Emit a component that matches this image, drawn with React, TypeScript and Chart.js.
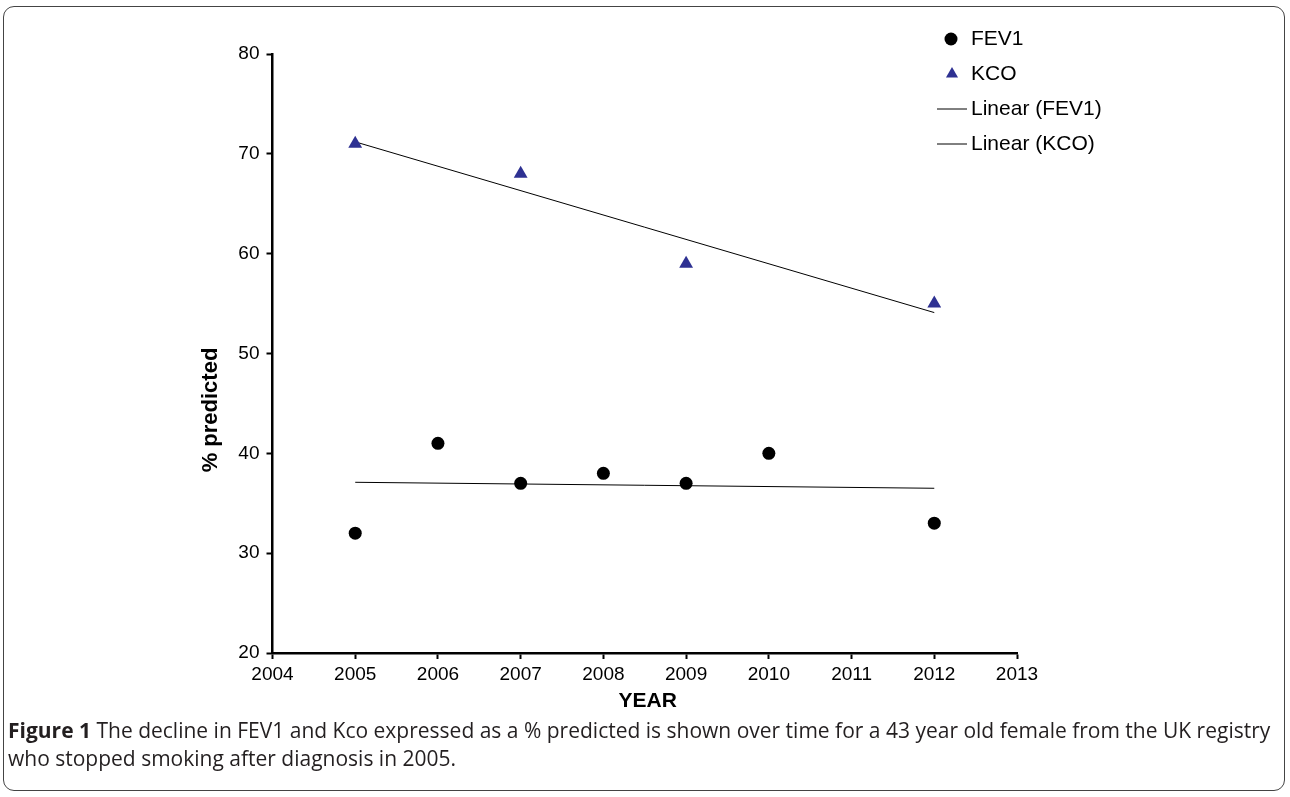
import React, { useEffect, useRef } from "react";
import { Chart, registerables } from "chart.js";

Chart.register(...registerables);

const fev1Years = [2005, 2006, 2007, 2008, 2009, 2010, 2012];
const fev1Values = [32, 41, 37, 38, 37, 40, 33];
const kcoYears = [2005, 2007, 2009, 2012];
const kcoValues = [71, 68, 59, 55];
const trendYears = [2005, 2012];
const fev1TrendValues = [37.1, 36.5];
const kcoTrendValues = [71.2, 54.1];
const xTickValues = [2004, 2005, 2006, 2007, 2008, 2009, 2010, 2011, 2012, 2013];
const yTickValues = [20, 30, 40, 50, 60, 70, 80];
const seriesLabels = ["FEV1", "KCO", "Linear (FEV1)", "Linear (KCO)"];
const xTitle = "YEAR";
const yTitle = "% predicted";

const FONT = "'Liberation Sans', Arial, Helvetica, sans-serif";
const KCO_COLOR = "#2e3192";

const pts = (xs: number[], ys: number[]) => xs.map((x, i) => ({ x, y: ys[i] }));

const legendPlugin = {
  id: "customLegend",
  afterDraw(chart: any) {
    const ctx = chart.ctx as CanvasRenderingContext2D;
    ctx.save();
    const mx = 952;
    const tx = 971;
    const y0 = 39;
    const step = 35;
    chart.data.datasets.forEach((ds: any, i: number) => {
      const y = y0 + i * step;
      if (ds.showLine) {
        ctx.strokeStyle = "#000";
        ctx.lineWidth = 1;
        ctx.beginPath();
        ctx.moveTo(937, y);
        ctx.lineTo(967, y);
        ctx.stroke();
      } else if (ds.pointStyle === "triangle") {
        ctx.fillStyle = ds.backgroundColor;
        const r = 7;
        ctx.beginPath();
        ctx.moveTo(mx, y - r);
        ctx.lineTo(mx + r * 0.866, y + r * 0.5);
        ctx.lineTo(mx - r * 0.866, y + r * 0.5);
        ctx.closePath();
        ctx.fill();
      } else {
        ctx.fillStyle = ds.backgroundColor;
        ctx.beginPath();
        ctx.arc(mx - 1, y, 6.5, 0, Math.PI * 2);
        ctx.fill();
      }
      ctx.fillStyle = "#000";
      ctx.font = `21px ${FONT}`;
      ctx.textAlign = "left";
      ctx.textBaseline = "middle";
      ctx.fillText(ds.label, tx, y);
    });
    ctx.restore();
  },
};

const titlesPlugin = {
  id: "axisTitles",
  afterDraw(chart: any) {
    const ctx = chart.ctx as CanvasRenderingContext2D;
    const area = chart.chartArea;
    ctx.save();
    ctx.fillStyle = "#000";
    ctx.textAlign = "center";
    ctx.textBaseline = "middle";
    ctx.font = `bold 21px ${FONT}`;
    ctx.fillText(xTitle, (area.left + area.right) / 2 + 3, area.bottom + 48);
    ctx.translate(area.left - 62, 410);
    ctx.rotate(-Math.PI / 2);
    ctx.font = `bold 22px ${FONT}`;
    ctx.fillText(yTitle, 0, 0);
    ctx.restore();
  },
};

export default function App() {
  const canvasRef = useRef<HTMLCanvasElement | null>(null);

  useEffect(() => {
    if (!canvasRef.current) return;
    const chart = new Chart(canvasRef.current, {
      type: "scatter",
      data: {
        datasets: [
          {
            label: seriesLabels[0],
            data: pts(fev1Years, fev1Values),
            backgroundColor: "#000",
            borderColor: "#000",
            pointStyle: "circle",
            pointRadius: 6.5,
            pointBorderWidth: 0,
            showLine: false,
          },
          {
            label: seriesLabels[1],
            data: pts(kcoYears, kcoValues),
            backgroundColor: KCO_COLOR,
            borderColor: KCO_COLOR,
            pointStyle: "triangle",
            pointRadius: 8,
            pointBorderWidth: 0,
            showLine: false,
          },
          {
            label: seriesLabels[2],
            data: pts(trendYears, fev1TrendValues),
            borderColor: "#000",
            borderWidth: 1,
            pointRadius: 0,
            showLine: true,
          },
          {
            label: seriesLabels[3],
            data: pts(trendYears, kcoTrendValues),
            borderColor: "#000",
            borderWidth: 1,
            pointRadius: 0,
            showLine: true,
          },
        ],
      },
      options: {
        animation: false,
        responsive: false,
        maintainAspectRatio: false,
        layout: { padding: { left: 182, right: 273, top: 54, bottom: 0 } },
        plugins: {
          legend: { display: false },
          tooltip: { enabled: false },
        },
        scales: {
          x: {
            type: "linear",
            min: 2004,
            max: 2013,
            afterBuildTicks: (scale: any) => {
              scale.ticks = xTickValues.map((v) => ({ value: v }));
            },
            afterFit: (scale: any) => {
              scale.height = 67;
            },
            ticks: {
              callback: (v: any) => String(v),
              color: "#000",
              font: { family: FONT, size: 19 },
              padding: 4,
              maxRotation: 0,
              autoSkip: false,
            },
            grid: {
              drawOnChartArea: false,
              drawTicks: true,
              tickLength: 6,
              tickWidth: 2,
              tickColor: "#000",
            },
            border: { display: true, color: "#000", width: 2.5 },
          },
          y: {
            type: "linear",
            min: 20,
            max: 80,
            afterBuildTicks: (scale: any) => {
              scale.ticks = yTickValues.map((v) => ({ value: v }));
            },
            afterFit: (scale: any) => {
              scale.width = 90.5;
            },
            ticks: {
              callback: (v: any) => String(v),
              color: "#000",
              font: { family: FONT, size: 19 },
              padding: 7,
              autoSkip: false,
            },
            grid: {
              drawOnChartArea: false,
              drawTicks: true,
              tickLength: 6,
              tickWidth: 2,
              tickColor: "#000",
            },
            border: { display: true, color: "#000", width: 2.5 },
          },
        },
      },
      plugins: [legendPlugin, titlesPlugin],
    });
    return () => chart.destroy();
  }, []);

  return (
    <div style={{ position: "absolute", left: 0, top: 0, width: 1290, height: 797, background: "#fff", overflow: "hidden" }}>
      <div
        style={{
          position: "absolute",
          left: 3,
          top: 6,
          width: 1282,
          height: 785,
          border: "1.5px solid #444",
          borderRadius: 11,
          boxSizing: "border-box",
        }}
      />
      <canvas ref={canvasRef} width={1290} height={720} style={{ position: "absolute", left: 0, top: 0, width: 1290, height: 720 }} />
      <div
        style={{
          position: "absolute",
          left: 8,
          top: 716,
          whiteSpace: "nowrap",
          fontFamily: "'Open Sans', 'Noto Sans', sans-serif",
          fontSize: 21,
          lineHeight: "28px",
          color: "#231f20",
        }}
      >
        <b>Figure 1</b> The decline in FEV1 and Kco expressed as a % predicted is shown over time for a 43 year old female from the UK registry
        <br />
        who stopped smoking after diagnosis in 2005.
      </div>
    </div>
  );
}
